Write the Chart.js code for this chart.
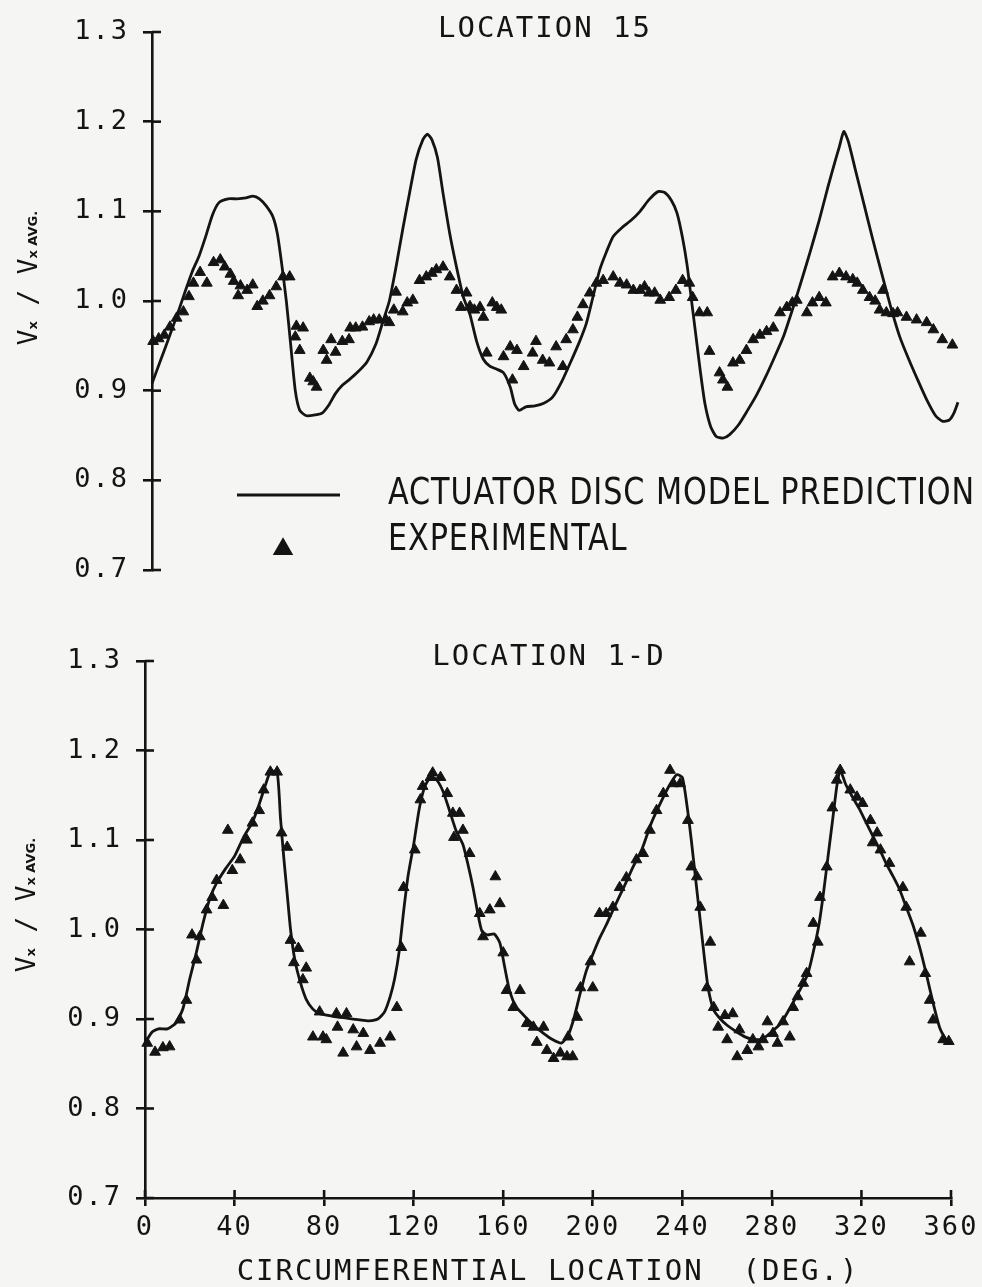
<!DOCTYPE html>
<html>
<head>
<meta charset="utf-8">
<script src="https://cdn.jsdelivr.net/npm/chart.js@4.4.1/dist/chart.umd.min.js"></script>
<style>
  html, body { margin: 0; padding: 0; background: #f5f5f3; }
  #wrap { position: relative; width: 982px; height: 1287px; overflow: hidden; }
  canvas { position: absolute; left: 0; }
  #top { top: 0; }
  #bottom { top: 610px; }
</style>
</head>
<body>
<div id="wrap">
  <canvas id="top" width="982" height="610"></canvas>
  <canvas id="bottom" width="982" height="677"></canvas>
</div>
<script>
'use strict';

// axis ticks
const xTicks = [0, 40, 80, 120, 160, 200, 240, 280, 320, 360];
const yTicks = [0.7, 0.8, 0.9, 1.0, 1.1, 1.2, 1.3];
const xTitle = 'CIRCUMFERENTIAL LOCATION  (DEG.)';

// location 15 - actuator disc model prediction
const loc15LineDeg = [0, 4, 8, 12, 15, 18, 21, 24, 27, 30, 34, 38, 42, 45, 48, 51, 54, 56, 58, 60,
  62, 64, 66, 69, 73, 76, 79, 82, 85, 88, 92, 96, 100, 103, 106, 109, 112, 115, 118, 121,
  123, 125, 127.5, 130, 133, 136, 139, 142, 145, 148, 151, 154, 157, 160, 162, 164, 167, 171, 175, 179,
  183, 187, 191, 194, 197, 200, 203, 206, 210, 214, 218, 222, 226, 229, 232, 234.5, 237, 239, 241, 243,
  245, 247, 249.5, 252, 255, 258, 262, 266, 270, 274, 278, 282, 286, 290, 294, 298, 302, 305, 307, 309,
  311, 314, 318, 322, 326, 330, 334, 338, 342, 346, 350, 353, 356, 358, 360];
const loc15LineVal = [0.908, 0.935, 0.962, 0.99, 1.012, 1.033, 1.05, 1.072, 1.096, 1.11, 1.114, 1.114, 1.115, 1.117, 1.114, 1.106, 1.094, 1.075, 1.04, 1.0,
  0.95, 0.9, 0.878, 0.872, 0.873, 0.875, 0.884, 0.897, 0.906, 0.912, 0.921, 0.932, 0.952, 0.976, 1.0, 1.038, 1.08, 1.12, 1.158, 1.18,
  1.186, 1.18, 1.16, 1.12, 1.075, 1.038, 1.005, 0.985, 0.955, 0.935, 0.927, 0.924, 0.92, 0.904, 0.885, 0.878, 0.882, 0.883, 0.886, 0.893,
  0.91, 0.932, 0.955, 0.975, 1.005, 1.035, 1.055, 1.072, 1.082, 1.09, 1.1, 1.113, 1.122, 1.121, 1.112, 1.098, 1.07, 1.04, 1.0, 0.96,
  0.92, 0.885, 0.86, 0.849, 0.847, 0.851, 0.862, 0.878, 0.895, 0.915, 0.937, 0.96, 0.99, 1.022, 1.055, 1.09, 1.128, 1.155, 1.172, 1.189,
  1.178, 1.148, 1.108, 1.068, 1.03, 0.993, 0.96, 0.935, 0.912, 0.89, 0.872, 0.866, 0.867, 0.874, 0.887];

// location 15 - experimental
const loc15ExpDeg = [0.5, 3, 5.5, 8, 11, 14, 16.5, 18.5, 21.5, 24.5, 27.5, 30.5, 32.5, 35, 36.5, 38.5, 39.5, 42.5, 45, 47,
  49.5, 52.5, 55.5, 58.5, 61.5, 64, 64.5, 66, 67.5, 70.5, 72, 73.5, 76.5, 78, 80, 82, 85, 88, 88.5, 91,
  94, 97, 99, 101.5, 104.5, 106, 108, 109, 112, 114, 116.5, 119.5, 122.5, 125, 127, 130, 133, 136, 138, 140.5,
  142, 144, 146.5, 148, 149.5, 152, 154, 156, 157, 160, 161, 163, 166, 170, 171.5, 174.5, 177.5, 180.5, 183.5, 185,
  188, 190, 192.5, 195.5, 198.5, 201.5, 206, 209, 212, 215, 218, 220, 222, 224.5, 227, 231, 234, 237, 240, 241.5,
  244.5, 248, 249, 253.5, 255, 257, 259.5, 262.5, 265.5, 268.5, 271.5, 274.5, 277.5, 280.5, 283.5, 286, 288, 292.5, 295, 298,
  301, 304, 307, 310, 313, 315, 317.5, 320.5, 323, 325, 326.5, 328, 331, 333, 337, 341.5, 346, 349, 353, 357.5];
const loc15ExpVal = [0.955, 0.958, 0.962, 0.971, 0.981, 0.988, 1.005, 1.02, 1.032, 1.02, 1.043, 1.046, 1.038, 1.03, 1.022, 1.006, 1.017, 1.012, 1.018, 0.994,
  1.0, 1.006, 1.016, 1.027, 1.027, 0.96, 0.972, 0.945, 0.97, 0.914, 0.91, 0.904, 0.945, 0.934, 0.957, 0.943, 0.955, 0.957, 0.97, 0.97,
  0.971, 0.977, 0.979, 0.979, 0.979, 0.976, 0.99, 1.01, 0.988, 0.998, 1.001, 1.023, 1.027, 1.031, 1.035, 1.038, 1.027, 1.012, 0.993, 1.009,
  0.994, 0.99, 0.993, 0.982, 0.942, 0.998, 0.993, 0.99, 0.938, 0.949, 0.912, 0.945, 0.927, 0.942, 0.955, 0.934, 0.931, 0.949, 0.927, 0.957,
  0.968, 0.982, 0.996, 1.009, 1.02, 1.023, 1.027, 1.02, 1.018, 1.012, 1.012, 1.016, 1.009, 1.009, 1.001, 1.004, 1.012, 1.023, 1.02, 1.004,
  0.987, 0.987, 0.944, 0.92, 0.912, 0.904, 0.931, 0.934, 0.945, 0.957, 0.962, 0.966, 0.97, 0.987, 0.993, 0.998, 1.001, 0.987, 0.998, 1.004,
  0.998, 1.027, 1.031, 1.027, 1.024, 1.02, 1.012, 1.004, 1.0, 0.99, 1.012, 0.987, 0.986, 0.987, 0.982, 0.979, 0.976, 0.968, 0.957, 0.951];

// location 1-D - actuator disc model prediction
const loc1dLineDeg = [0, 3, 6, 10, 14, 17, 20, 23, 26, 29, 32, 36, 40, 44, 48, 51, 54, 56, 59, 60.5,
  62, 63.5, 65, 67, 69.5, 72, 75, 78, 84, 90, 96, 100, 104, 107, 109.5, 111.5, 113.5, 115.5, 117.5, 120,
  122.5, 125, 127.5, 130, 133, 136, 139, 142, 144.5, 146.5, 148.5, 150.5, 153, 156, 158.5, 160.5, 163, 166, 170, 174,
  178, 182, 186, 189, 191.5, 194, 197, 200, 203, 206, 210, 214, 218, 222, 226, 230, 234, 237.5, 240, 242,
  244, 246, 248, 250, 251.5, 254, 257, 260, 264, 268, 272, 276, 280, 284, 288, 292, 296, 298.5, 301, 303,
  305, 307, 309, 310.5, 313, 316, 319, 322, 325, 328, 331, 334, 337, 340, 343, 346, 349, 352, 355, 358, 359.5];
const loc1dLineVal = [0.873, 0.885, 0.889, 0.889, 0.896, 0.912, 0.945, 0.975, 1.008, 1.035, 1.052, 1.068, 1.082, 1.103, 1.12, 1.14, 1.163, 1.176, 1.176, 1.125,
  1.08, 1.04, 1.0, 0.965, 0.94, 0.922, 0.911, 0.906, 0.903, 0.901, 0.899, 0.898, 0.9, 0.908, 0.925, 0.945, 0.975, 1.02, 1.06, 1.095,
  1.135, 1.16, 1.17, 1.168, 1.155, 1.133, 1.11, 1.095, 1.07, 1.047, 1.02, 0.998, 0.994, 0.995, 0.985, 0.96, 0.93, 0.913, 0.902, 0.892,
  0.884, 0.877, 0.873, 0.882, 0.9, 0.925, 0.953, 0.972, 0.99, 1.005, 1.027, 1.048, 1.07, 1.09, 1.118, 1.14, 1.16, 1.173, 1.17, 1.14,
  1.1, 1.055, 1.01, 0.965, 0.935, 0.91, 0.9, 0.893, 0.886, 0.88, 0.877, 0.878, 0.886, 0.895, 0.912, 0.93, 0.95, 0.975, 1.005, 1.04,
  1.08, 1.12, 1.16, 1.178, 1.162, 1.148, 1.135, 1.12, 1.105, 1.09, 1.074, 1.06, 1.045, 1.025, 1.005, 0.98, 0.95, 0.918, 0.89, 0.876, 0.872];

// location 1-D - experimental
const loc1dExpDeg = [1, 4.5, 8, 11, 15.5, 18.5, 21, 23, 24.5, 27.5, 30, 32, 35, 37, 39, 42.5, 45.5, 48, 51, 53,
  56, 59, 61, 63.5, 65, 66.5, 68.5, 70.5, 72, 75, 78, 79.5, 81, 85.5, 86, 88.5, 90, 93, 94.5, 97.5,
  100.5, 105, 109.5, 112.5, 114.5, 115.5, 120.5, 123, 124, 127.5, 128.5, 132, 135, 137.5, 138, 140.5, 142, 145, 149.5, 151,
  154, 156.5, 158.5, 160, 161.5, 164.5, 167.5, 170.5, 173.5, 175, 178, 179.5, 182.5, 185.5, 188.5, 189, 191, 193, 194.5, 199,
  200, 203, 206, 209, 212, 215, 219.5, 222.5, 225.5, 228.5, 231.5, 234.5, 236, 239, 242.5, 244, 246.5, 248, 251, 252.5,
  254, 256, 259, 260, 262.5, 264.5, 265.5, 269, 271.5, 274, 276, 278, 280.5, 282.5, 285, 288, 289.5, 291.5, 294, 295.5,
  298.5, 300.5, 301.5, 304.5, 307, 309, 310.5, 315, 318, 320.5, 324, 325, 327, 328.5, 332.5, 338.5, 340, 341.5, 346.5, 348.5,
  350.5, 352, 356.5, 359];
const loc1dExpVal = [0.873, 0.863, 0.868, 0.869, 0.899, 0.921, 0.994, 0.966, 0.992, 1.022, 1.036, 1.055, 1.027, 1.111, 1.066, 1.078, 1.1, 1.119, 1.133, 1.156,
  1.176, 1.176, 1.108, 1.092, 0.988, 0.963, 0.979, 0.944, 0.957, 0.88, 0.908, 0.88, 0.877, 0.906, 0.891, 0.862, 0.906, 0.888, 0.869, 0.884,
  0.865, 0.873, 0.88, 0.913, 0.98, 1.047, 1.089, 1.145, 1.16, 1.17, 1.175, 1.17, 1.152, 1.13, 1.103, 1.13, 1.111, 1.085, 1.018, 0.992,
  1.022, 1.059, 1.029, 0.974, 0.932, 0.913, 0.932, 0.895, 0.891, 0.874, 0.891, 0.865, 0.856, 0.862, 0.858, 0.88, 0.858, 0.902, 0.935, 0.964,
  0.935, 1.018, 1.018, 1.025, 1.047, 1.058, 1.078, 1.085, 1.111, 1.133, 1.152, 1.178, 1.163, 1.163, 1.122, 1.07, 1.059, 1.025, 0.935, 0.986,
  0.913, 0.891, 0.904, 0.877, 0.906, 0.858, 0.888, 0.865, 0.877, 0.869, 0.877, 0.897, 0.884, 0.873, 0.897, 0.88, 0.913, 0.925, 0.94, 0.951,
  1.007, 0.986, 1.036, 1.07, 1.136, 1.167, 1.178, 1.156, 1.148, 1.141, 1.122, 1.097, 1.108, 1.089, 1.074, 1.047, 1.025, 0.964, 0.996, 0.951,
  0.921, 0.899, 0.877, 0.875];

const ink = '#141414';
const mono = '"DejaVu Sans Mono", "Liberation Mono", monospace';

function pts(xs, ys) {
  return xs.map((x, i) => ({ x: x, y: ys[i] }));
}

function makeDatasets(lineDeg, lineVal, expDeg, expVal) {
  return [
    {
      label: 'ACTUATOR DISC MODEL PREDICTION',
      data: pts(lineDeg, lineVal),
      showLine: true,
      borderColor: ink,
      borderWidth: 2.8,
      pointRadius: 0,
      tension: 0.2,
      clip: false,
      order: 2,
    },
    {
      label: 'EXPERIMENTAL',
      data: pts(expDeg, expVal),
      showLine: false,
      pointStyle: 'triangle',
      pointRadius: 6.2,
      backgroundColor: ink,
      borderColor: ink,
      borderWidth: 1,
      clip: false,
      order: 1,
    },
  ];
}

function makeScales(showX, xHeight) {
  return {
    x: {
      type: 'linear',
      min: 0,
      max: 360,
      display: showX,
      afterBuildTicks: (s) => { s.ticks = xTicks.map((v) => ({ value: v })); },
      afterFit: (s) => { if (xHeight != null) s.height = xHeight; },
      grid: { drawOnChartArea: false, tickLength: 8, color: ink, lineWidth: 2.6 },
      border: { color: ink, width: 2.6 },
      ticks: { color: ink, font: { family: mono, size: 27 }, padding: 6, maxRotation: 0, autoSkip: false },
      title: {
        display: showX,
        text: xTitle,
        color: ink,
        font: { family: mono, size: 29, lineHeight: 1 },
        padding: { top: 0, bottom: 0 },
      },
    },
    y: {
      type: 'linear',
      min: 0.7,
      max: 1.3,
      afterBuildTicks: (s) => { s.ticks = yTicks.map((v) => ({ value: v })); },
      afterFit: (s) => { s.width = 100; },
      grid: { drawOnChartArea: false, tickLength: 9, color: ink, lineWidth: 2.6 },
      border: { color: ink, width: 2.6 },
      ticks: {
        color: ink,
        font: { family: mono, size: 27 },
        padding: 14,
        callback: (v) => Number(v).toFixed(1),
      },
    },
  };
}

// ticks in the reference cross the axis: draw the inner half too
const crossTicks = {
  id: 'crossTicks',
  beforeDraw(chart) {
    chart.ctx.letterSpacing = '2px';
  },
  afterDraw(chart) {
    const ctx = chart.ctx;
    const area = chart.chartArea;
    ctx.save();
    ctx.letterSpacing = '0px';
    ctx.strokeStyle = ink;
    ctx.lineWidth = 2.6;
    chart.scales.y.ticks.forEach((t) => {
      const py = chart.scales.y.getPixelForValue(t.value);
      ctx.beginPath();
      ctx.moveTo(area.left, py);
      ctx.lineTo(area.left + 9, py);
      ctx.stroke();
    });
    if (chart.scales.x.options.display) {
      chart.scales.x.ticks.forEach((t) => {
        const px = chart.scales.x.getPixelForValue(t.value);
        ctx.beginPath();
        ctx.moveTo(px, area.bottom);
        ctx.lineTo(px, area.bottom - 8);
        ctx.stroke();
      });
    }
    ctx.restore();
  },
};

function drawYLabel(ctx, x, cy) {
  const big = '26px ' + mono;
  const small = 'bold 13px "DejaVu Sans", sans-serif';
  const parts = [['V', big], ['x', small], [' / ', big], ['V', big], ['x', small], [' AVG.', small]];
  ctx.save();
  ctx.translate(x, cy);
  ctx.rotate(-Math.PI / 2);
  ctx.textAlign = 'left';
  ctx.textBaseline = 'alphabetic';
  ctx.letterSpacing = '0px';
  let total = 0;
  const widths = parts.map(([t, f]) => {
    ctx.font = f;
    const w = ctx.measureText(t).width;
    total += w;
    return w;
  });
  let pos = -total / 2;
  parts.forEach(([t, f], i) => {
    ctx.font = f;
    ctx.fillText(t, pos, 0);
    pos += widths[i];
  });
  ctx.restore();
}

function drawLegend(chart, ctx) {
  const sets = chart.data.datasets;
  ctx.save();
  ctx.strokeStyle = ink;
  ctx.fillStyle = ink;
  ctx.lineWidth = 2.8;
  ctx.beginPath();
  ctx.moveTo(237, 495);
  ctx.lineTo(340, 495);
  ctx.stroke();
  Chart.helpers.drawPoint(ctx, { pointStyle: 'triangle', radius: 9, rotation: 0, borderWidth: 1 }, 283, 549);

  ctx.letterSpacing = '1px';
  ctx.font = '37px "Liberation Sans Narrow", "DejaVu Sans Condensed", "Arial Narrow", sans-serif';
  ctx.textAlign = 'left';
  ctx.textBaseline = 'alphabetic';
  const k = 587 / ctx.measureText(sets[0].label).width;
  [[sets[0].label, 504], [sets[1].label, 550]].forEach(([t, y]) => {
    ctx.save();
    ctx.translate(388, y);
    ctx.scale(k, 1);
    ctx.fillText(t, 0, 0);
    ctx.restore();
  });
  ctx.restore();
}

const panelText = {
  id: 'panelText',
  afterDraw(chart, args, o) {
    const ctx = chart.ctx;
    ctx.save();
    ctx.fillStyle = ink;
    ctx.letterSpacing = '2px';
    ctx.font = '29px ' + mono;
    ctx.textAlign = 'center';
    ctx.textBaseline = 'alphabetic';
    ctx.fillText(o.title, o.titleX, o.titleY);
    drawYLabel(ctx, o.yLabelX, o.yLabelY);
    if (o.legend) drawLegend(chart, ctx);
    ctx.restore();
  },
};

function makeChart(id, datasets, scales, padding, text) {
  return new Chart(document.getElementById(id), {
    type: 'scatter',
    data: { datasets: datasets },
    options: {
      responsive: false,
      animation: false,
      layout: { padding: padding },
      scales: scales,
      plugins: {
        legend: { display: false },
        tooltip: { enabled: false },
        panelText: text,
      },
    },
    plugins: [crossTicks, panelText],
  });
}

makeChart('top',
  makeDatasets(loc15LineDeg, loc15LineVal, loc15ExpDeg, loc15ExpVal),
  makeScales(false, null),
  { left: 52, right: 24, top: 32, bottom: 40 },
  { title: 'LOCATION 15', titleX: 545, titleY: 37, yLabelX: 37, yLabelY: 278, legend: true });

makeChart('bottom',
  makeDatasets(loc1dLineDeg, loc1dLineVal, loc1dExpDeg, loc1dExpVal),
  makeScales(true, 89),
  { left: 45, right: 31, top: 51, bottom: 0 },
  { title: 'LOCATION 1-D', titleX: 549, titleY: 55, yLabelX: 35, yLabelY: 295, legend: false });
</script>
</body>
</html>
